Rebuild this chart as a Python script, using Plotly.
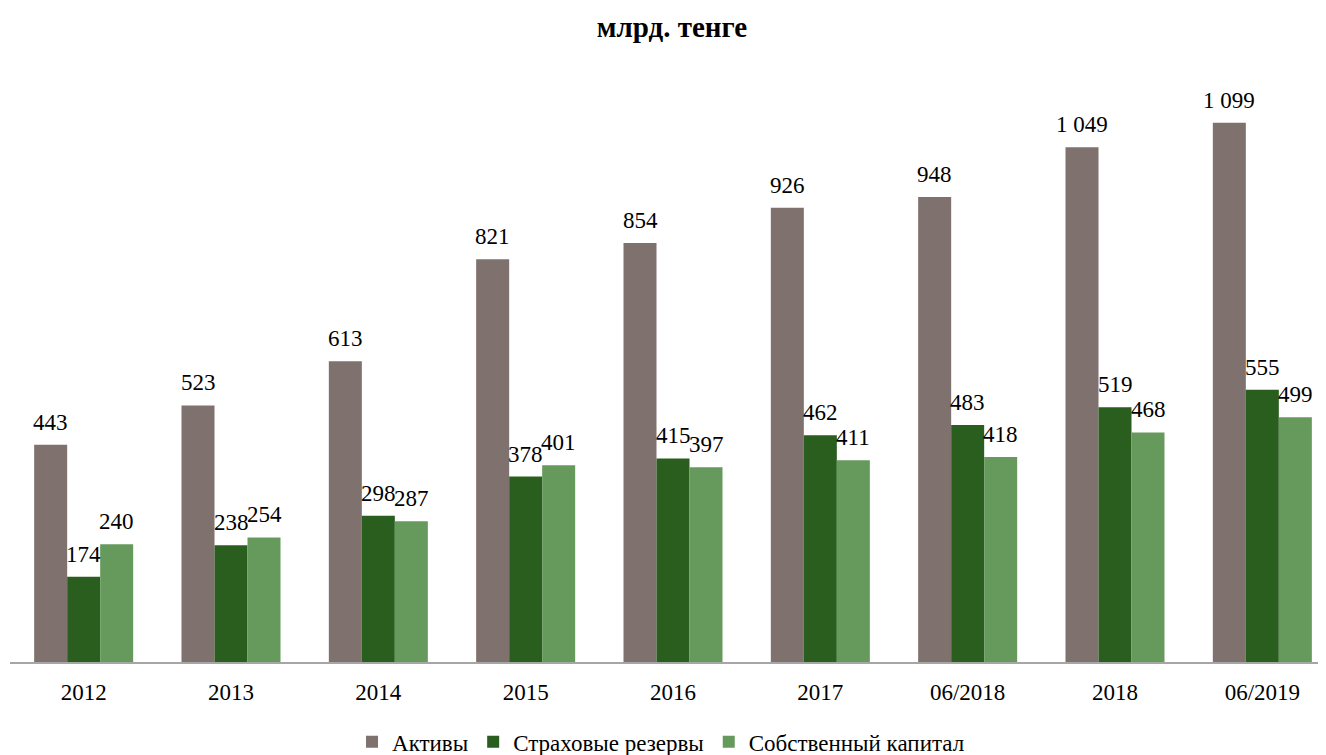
import plotly.graph_objects as go

categories = ["2012", "2013", "2014", "2015", "2016", "2017", "06/2018", "2018", "06/2019"]
assets = [443, 523, 613, 821, 854, 926, 948, 1049, 1099]
reserves = [174, 238, 298, 378, 415, 462, 483, 519, 555]
equity = [240, 254, 287, 401, 397, 411, 418, 468, 499]

series = [
    ("Активы", assets, "#7f716e"),
    ("Страховые резервы", reserves, "#2a5e1e"),
    ("Собственный капитал", equity, "#66995c"),
]

def fmt(v):
    return f"{v:,}".replace(",", " ")

FONT = "Liberation Serif"
BARGAP = 0.328
W, H = 1328, 755
# page body has an 8px margin; margins compensate so the chart lands where the reference has it
ML, MR, MT, MB = 2, 0, 52, 101
n = len(categories)
slot = (1 - BARGAP) / len(series)  # bar width in category units
xpos = list(range(n))

fig = go.Figure()
annotations = []
for i, (name, vals, color) in enumerate(series):
    fig.add_trace(go.Bar(
        name=name, x=xpos, y=vals,
        marker=dict(color=color, line=dict(width=0)),
    ))
    off = (i - (len(series) - 1) / 2) * slot
    for j, v in zip(xpos, vals):
        annotations.append(dict(
            x=j + off, y=v, xref="x", yref="y", text=fmt(v), showarrow=False,
            xanchor="center", yanchor="bottom", yshift=8,
            font=dict(family=FONT, size=23, color="black"),
        ))

fig.update_layout(
    width=W, height=H,
    paper_bgcolor="white", plot_bgcolor="white",
    barmode="group", bargap=BARGAP, bargroupgap=0,
    title=dict(text="<b>млрд. тенге</b>", x=(672 - 8) / W, xanchor="center", y=0.975, yanchor="middle",
               yref="container", font=dict(family=FONT, size=29, color="black")),
    margin=dict(l=ML, r=MR, t=MT, b=MB, autoexpand=False),
    font=dict(family=FONT, size=23, color="black"),
    showlegend=True,
    legend=dict(orientation="h", x=(660 - 8) / W, xanchor="center", y=0.028, yanchor="middle",
                yref="container",
                font=dict(family=FONT, size=23, color="black"),
                itemwidth=30, tracegroupgap=0),
    xaxis=dict(type="linear", range=[-0.5, n - 0.5],
               tickmode="array", tickvals=xpos, ticktext=categories,
               showline=True, linecolor="#a6a6a6", linewidth=2, showgrid=False, zeroline=False,
               ticks="outside", ticklen=8, tickcolor="rgba(0,0,0,0)",
               tickfont=dict(family=FONT, size=23, color="black")),
    yaxis=dict(range=[0, 1227], visible=False, showgrid=False),
    annotations=annotations,
)
fig.write_html("out.html")
